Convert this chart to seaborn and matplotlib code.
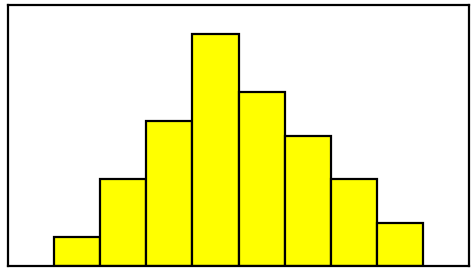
import numpy as np
import pandas as pd
import matplotlib
matplotlib.use("Agg")
import matplotlib.pyplot as plt
import seaborn as sns

# Histogram bin edges and counts
bin_edges = [1, 2, 3, 4, 5, 6, 7, 8, 9]
counts = [2, 6, 10, 16, 12, 9, 6, 3]

centers = [(a + b) / 2 for a, b in zip(bin_edges[:-1], bin_edges[1:])]
df = pd.DataFrame({"value": centers, "count": counts})

sns.set_style("white")
fig = plt.figure(figsize=(4.74, 2.70), dpi=100)
ax = fig.add_axes([8 / 474, 4 / 270, 461 / 474, 261 / 270])

sns.histplot(data=df, x="value", weights="count", bins=bin_edges,
             color="#ffff00", edgecolor="black", linewidth=1.6,
             alpha=1, ax=ax)

ax.set_xlim(0, 10)
ax.set_ylim(0, 18)
ax.set_xticks([])
ax.set_yticks([])
ax.set_xlabel("")
ax.set_ylabel("")
for s in ax.spines.values():
    s.set_visible(True)
    s.set_color("black")
    s.set_linewidth(1.6)

fig.savefig("out.png", dpi=100, facecolor="white")
